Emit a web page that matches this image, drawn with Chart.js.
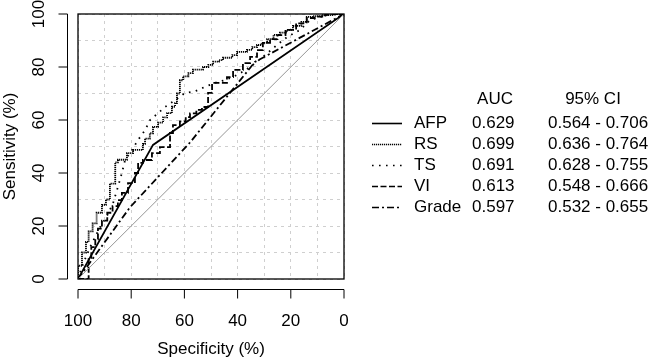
<!DOCTYPE html>
<html><head><meta charset="utf-8">
<script src="https://cdn.jsdelivr.net/npm/chart.js@4/dist/chart.umd.min.js"></script>
<style>html,body{margin:0;padding:0;background:#fff;overflow:hidden}</style>
</head><body>
<canvas id="c" width="650" height="361"></canvas>
<script>
// ---- data (Specificity %, Sensitivity %) ----
const seriesNames = ['AFP', 'RS', 'TS', 'VI', 'Grade'];
const aucValues = ['0.629', '0.699', '0.691', '0.613', '0.597'];
const ciValues = ['0.564 - 0.706', '0.636 - 0.764', '0.628 - 0.755', '0.548 - 0.666', '0.532 - 0.655'];
const xTickValues = [100, 80, 60, 40, 20, 0];
const yTickValues = [0, 20, 40, 60, 80, 100];

const afpSpec = [100, 71.8, 0];
const afpSens = [0, 50.6, 100];

const rsSpec = [100, 98.5, 97, 96, 94.5, 93, 91, 89.5, 88, 86, 85, 81.6, 79.3, 75.6, 74.8, 73, 71.8, 69.9, 68, 66.5, 64.7, 63.5, 62.8, 61.7, 60.5, 58.5, 56.8, 53, 51, 49.2, 47, 45.5, 42, 40.2, 36.5, 34.5, 32.7, 31, 28.9, 26.5, 24.1, 21.5, 19.2, 16, 14, 11.7, 8, 4, 1.5, 0];
const rsSens = [0, 5, 10, 14, 18, 21, 25, 28, 30, 36, 44, 45, 47.5, 48.7, 51, 53, 55, 57.4, 59, 61, 62.6, 65, 66.4, 70, 75, 76.5, 77.7, 79, 80, 80.8, 82, 82.6, 83.5, 84.5, 85.7, 86.5, 87.5, 88.3, 89.1, 90.5, 92.1, 93, 94, 95.5, 97, 98.9, 99.2, 99.6, 100, 100];

const tsSpec = [100, 98, 95, 92, 89, 86.8, 85, 83.5, 82.3, 79.7, 77.4, 74.8, 72.9, 69.9, 67.3, 63.5, 59.8, 56, 52.3, 48.5, 45, 41.7, 38.5, 35.3, 30.5, 25.2, 21.4, 16.5, 12.8, 6.4, 0];
const tsSens = [0, 6, 13, 19, 24, 28.7, 34.7, 40, 44.9, 48.7, 52.5, 56.2, 60, 62.6, 64.9, 67.5, 70.2, 70.8, 72.5, 74, 75, 76.2, 78, 80, 83.8, 88.3, 91.3, 94, 97.7, 99.6, 100];

const viSpec = [100, 96, 95, 93.5, 92.5, 91, 89, 87, 85, 83.5, 81.2, 78.6, 77.4, 75.6, 72.2, 69.2, 65.4, 64.3, 61.7, 59.5, 57.9, 55.5, 53.4, 51.1, 49.6, 47.4, 44, 41.7, 38, 35.3, 32.7, 30.5, 27.8, 25, 22, 18, 14, 11, 7, 3, 0];
const viSens = [0, 0, 8, 12, 15, 19, 22, 25, 27.5, 29.8, 32.5, 36.2, 40, 43.8, 44.9, 47.5, 49.8, 55.1, 58.1, 59.5, 61.1, 62.5, 63.8, 64.9, 70.2, 74, 74, 76.2, 78.9, 81.5, 83.8, 86.4, 89.1, 90.5, 92, 94, 96.5, 98.5, 99, 100, 100];

const gradeSpec = [100, 80.5, 57.9, 33.5, 0];
const gradeSens = [0, 27, 51.5, 81.9, 100];

const diagSpec = [100, 0];
const diagSens = [0, 100];

// ---- styles ----
const lineStyles = {
  AFP:   { dash: [],            stepped: false },
  RS:    { dash: [1.2, 0.8],    stepped: 'after' },
  TS:    { dash: [1.6, 5.4],    stepped: false },
  VI:    { dash: [6, 2.5],      stepped: 'after' },
  Grade: { dash: [7, 3, 2, 3],  stepped: false }
};
const seriesData = {
  AFP: [afpSpec, afpSens], RS: [rsSpec, rsSens], TS: [tsSpec, tsSens],
  VI: [viSpec, viSens], Grade: [gradeSpec, gradeSens]
};
const pts = (xs, ys) => xs.map((x, i) => ({ x: x, y: ys[i] }));
const FONT = '17px "Liberation Sans", Arial, Helvetica, sans-serif';

const datasets = [{
  label: 'ref', data: pts(diagSpec, diagSens), showLine: true, pointRadius: 0,
  borderColor: '#969696', borderWidth: 1
}];
seriesNames.forEach(n => {
  datasets.push({
    label: n, data: pts(seriesData[n][0], seriesData[n][1]), showLine: true,
    pointRadius: 0, borderColor: '#000', borderWidth: 1.8,
    borderDash: lineStyles[n].dash, stepped: lineStyles[n].stepped, tension: 0
  });
});

const rStyle = {
  id: 'rStyle',
  afterDraw(chart) {
    const ctx = chart.ctx, ca = chart.chartArea;
    const xs = chart.scales.x, ys = chart.scales.y;
    ctx.save();
    // box
    ctx.strokeStyle = '#000'; ctx.lineWidth = 1.3; ctx.setLineDash([]);
    ctx.strokeRect(ca.left, ca.top, ca.right - ca.left, ca.bottom - ca.top);
    // x axis
    ctx.lineWidth = 1;
    const axY = ca.bottom + 10.5;
    ctx.beginPath();
    ctx.moveTo(xs.getPixelForValue(100), axY); ctx.lineTo(xs.getPixelForValue(0), axY);
    xTickValues.forEach(v => { const p = xs.getPixelForValue(v); ctx.moveTo(p, axY); ctx.lineTo(p, axY + 9); });
    // y axis
    const axX = ca.left - 10.5;
    ctx.moveTo(axX, ys.getPixelForValue(0)); ctx.lineTo(axX, ys.getPixelForValue(100));
    yTickValues.forEach(v => { const p = ys.getPixelForValue(v); ctx.moveTo(axX, p); ctx.lineTo(axX - 9, p); });
    ctx.stroke();
    ctx.fillStyle = '#000'; ctx.font = FONT; ctx.textAlign = 'center'; ctx.textBaseline = 'middle';
    xTickValues.forEach(v => ctx.fillText(String(v), xs.getPixelForValue(v), 321));
    ctx.fillText('Specificity (%)', (ca.left + ca.right) / 2, 349);
    yTickValues.forEach(v => {
      ctx.save(); ctx.translate(39, ys.getPixelForValue(v)); ctx.rotate(-Math.PI / 2);
      ctx.fillText(String(v), 0, 0); ctx.restore();
    });
    ctx.save(); ctx.translate(10, (ca.top + ca.bottom) / 2); ctx.rotate(-Math.PI / 2);
    ctx.fillText('Sensitivity (%)', 0, 0); ctx.restore();
    // legend table
    ctx.fillText('AUC', 495, 99);
    ctx.fillText('95% CI', 593, 99);
    seriesNames.forEach((n, i) => {
      const y = 123.5 + 21 * i;
      ctx.beginPath(); ctx.lineWidth = 1.6; ctx.setLineDash(lineStyles[n].dash);
      ctx.moveTo(372, y); ctx.lineTo(402, y); ctx.stroke();
      ctx.setLineDash([]);
      ctx.textAlign = 'left';
      ctx.fillText(n, 414, y);
      ctx.fillText(aucValues[i], 472, y);
      ctx.fillText(ciValues[i], 548, y);
    });
    ctx.restore();
  }
};

new Chart(document.getElementById('c'), {
  type: 'scatter',
  data: { datasets: datasets },
  options: {
    responsive: false, animation: false, devicePixelRatio: 1,
    layout: { padding: { left: 78, top: 14, right: 306, bottom: 82 } },
    plugins: { legend: { display: false }, tooltip: { enabled: false } },
    scales: {
      x: { type: 'linear', reverse: true, min: 0, max: 100,
           ticks: { display: false, stepSize: 10 },
           grid: { color: '#cfcfcf', lineWidth: 1, drawTicks: false },
           border: { display: false, dash: [3, 4] } },
      y: { type: 'linear', min: 0, max: 100,
           ticks: { display: false, stepSize: 10 },
           grid: { color: '#cfcfcf', lineWidth: 1, drawTicks: false },
           border: { display: false, dash: [3, 4] } }
    }
  },
  plugins: [rStyle]
});
</script>
</body></html>
